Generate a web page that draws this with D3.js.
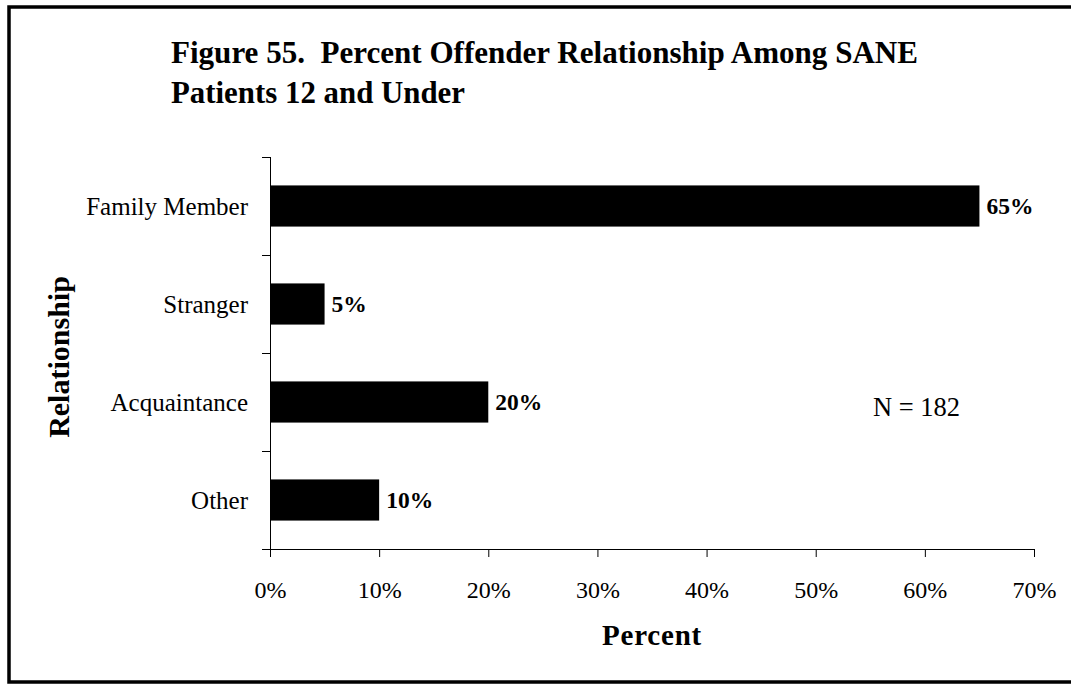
<!DOCTYPE html>
<html><head><meta charset="utf-8">
<script src="https://cdn.jsdelivr.net/npm/d3@7"></script>
<style>body{margin:0;background:#fff}svg{display:block}</style>
</head><body><svg id="c" width="1071" height="685"></svg>
<script>
const categories = ["Family Member", "Stranger", "Acquaintance", "Other"];
const values = [65, 5, 20, 10];
const valueLabels = ["65%", "5%", "20%", "10%"];
const xTicks = [0, 10, 20, 30, 40, 50, 60, 70];
const titleLines = ["Figure 55.\u00a0 Percent Offender Relationship Among SANE", "Patients 12 and Under"];
const xTitle = "Percent";
const yTitle = "Relationship";
const note = "N = 182";

const svg = d3.select("#c");
const font = "'Liberation Serif','Times New Roman',serif";
svg.append("rect").attr("x", 0).attr("y", 0).attr("width", 1071).attr("height", 685).attr("fill", "#fff");
svg.append("rect").attr("x", 9).attr("y", 7).attr("width", 1070).attr("height", 675)
  .attr("fill", "none").attr("stroke", "#000").attr("stroke-width", 3.5);

const L = 270, R = 1034, T = 157, B = 549;
const x = d3.scaleLinear().domain([0, 70]).range([L, R]);
const y = d3.scaleBand().domain(categories).range([T, B]).paddingInner(0.58).paddingOuter(0.29);
const yb = d3.scaleBand().domain(categories).range([T, B]);

// title
svg.append("g").selectAll("text").data(titleLines).join("text")
  .attr("x", 171).attr("y", (d, i) => 63 + i * 40)
  .attr("font-family", font).attr("font-weight", "bold").attr("font-size", 32)
  .attr("textLength", (d, i) => i === 0 ? 747 : 294).attr("lengthAdjust", "spacingAndGlyphs")
  .text(d => d);

// bars
svg.append("g").selectAll("rect").data(categories).join("rect")
  .attr("x", x(0)).attr("y", d => y(d)).attr("height", y.bandwidth())
  .attr("width", (d, i) => x(values[i]) - x(0)).attr("fill", "#000");

// value labels
svg.append("g").selectAll("text").data(categories).join("text")
  .attr("x", (d, i) => x(values[i]) + 7).attr("y", d => y(d) + y.bandwidth() / 2)
  .attr("dy", "0.35em").attr("font-family", font).attr("font-weight", "bold").attr("font-size", 23.5)
  .text((d, i) => valueLabels[i]);

// x axis
const xAxis = svg.append("g").attr("transform", `translate(0,${B})`)
  .call(d3.axisBottom(x).tickValues(xTicks).tickFormat(d => d + "%").tickSize(8).tickPadding(24));
xAxis.select(".domain").attr("d", `M${L - 8},0.5H${R}`).attr("stroke", "#000");
xAxis.selectAll("line").attr("stroke", "#000");
xAxis.selectAll("text").attr("font-family", font).attr("font-size", 24).attr("fill", "#000");

// y axis
const yAxisG = svg.append("g").attr("transform", `translate(${L},0)`);
yAxisG.append("line").attr("x1", 0.5).attr("x2", 0.5).attr("y1", T).attr("y2", B).attr("stroke", "#000");
yAxisG.selectAll("line.t").data(categories).join("line").attr("class", "t")
  .attr("x1", -8).attr("x2", 0).attr("y1", d => Math.round(yb(d)) + 0.5).attr("y2", d => Math.round(yb(d)) + 0.5).attr("stroke", "#000");
yAxisG.selectAll("text").data(categories).join("text")
  .attr("x", -22).attr("y", d => yb(d) + yb.bandwidth() / 2).attr("dy", "0.35em")
  .attr("text-anchor", "end").attr("font-family", font).attr("font-size", 25).text(d => d);

// axis titles
svg.append("text").attr("x", 652).attr("y", 645).attr("text-anchor", "middle")
  .attr("font-family", font).attr("font-weight", "bold").attr("font-size", 29).attr("letter-spacing", 0.8).text(xTitle);
svg.append("text").attr("transform", "translate(69,357) rotate(-90)").attr("text-anchor", "middle")
  .attr("font-family", font).attr("font-weight", "bold").attr("font-size", 30).text(yTitle);

svg.append("text").attr("x", 873).attr("y", 416).attr("font-family", font).attr("font-size", 26.5).text(note);
</script></body></html>
